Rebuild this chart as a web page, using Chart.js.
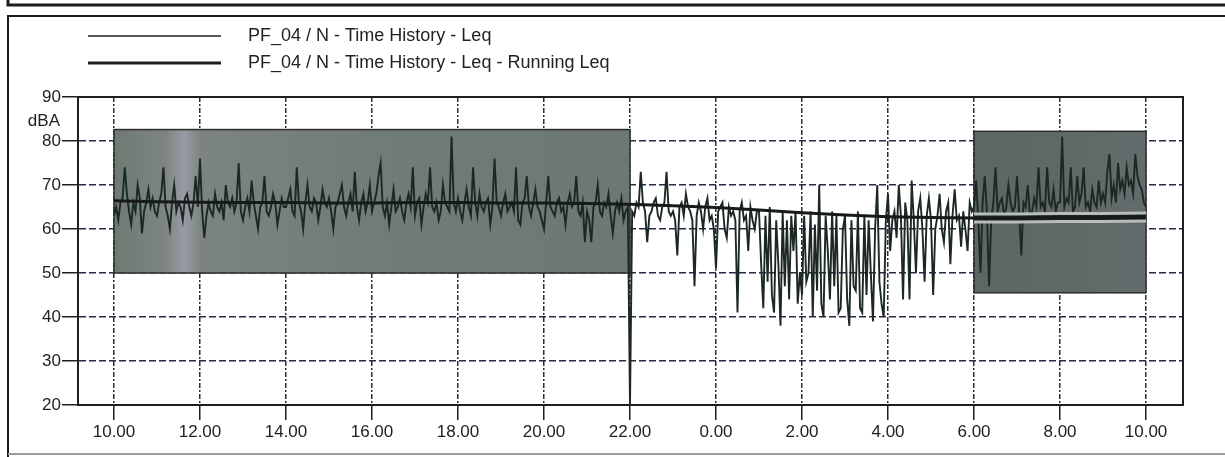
<!DOCTYPE html>
<html><head><meta charset="utf-8">
<script src="https://cdn.jsdelivr.net/npm/chart.js@4/dist/chart.umd.min.js"></script>
<style>html,body{margin:0;padding:0;background:#fff;overflow:hidden}#wrap{width:1225px;height:457px;position:relative}</style>
</head><body><div id="wrap"><canvas id="c" width="1225" height="457"></canvas></div>
<script>
// ---- data ----
const seriesLabels = ["PF_04 / N - Time History - Leq", "PF_04 / N - Time History - Leq - Running Leq"];
const xTickHours = [10, 12, 14, 16, 18, 20, 22, 24, 26, 28, 30, 32, 34];
const xTickLabels = ["10.00", "12.00", "14.00", "16.00", "18.00", "20.00", "22.00", "0.00", "2.00", "4.00", "6.00", "8.00", "10.00"];
const yTicks = [20, 30, 40, 50, 60, 70, 80, 90];
const yUnit = "dBA";
const leqStartHour = 10;
const leqStepMinutes = 3;
const leqValues = [
  63,65,62,66,67,74,68,64,61,66,64,70,67,59,64,66,69,65,67,64,   // 10
  63,66,68,74,65,63,60,66,70,64,66,65,62,67,68,65,63,66,72,65,   // 11
  76,64,58,63,66,64,63,68,65,64,66,62,70,66,65,67,64,66,75,64,   // 12
  62,65,67,64,71,66,63,60,65,66,72,64,63,65,68,66,61,64,67,65,   // 13
  65,67,69,64,63,74,66,64,60,66,70,65,64,67,66,62,65,69,66,65,   // 14
  67,64,60,65,66,68,70,65,63,66,68,64,73,65,62,66,68,64,66,70,   // 15
  64,66,68,72,75,65,63,66,61,65,69,64,65,67,64,62,66,68,65,74,   // 16
  63,66,67,61,65,68,66,74,65,64,66,62,64,70,66,65,64,81,66,64,   // 17
  67,64,62,66,69,65,63,74,66,63,68,65,64,66,67,61,65,76,66,65,   // 18
  63,66,68,64,65,66,64,74,62,61,66,67,72,65,63,66,69,65,64,62,   // 19
  60,66,72,65,64,63,66,67,64,65,61,66,68,65,66,72,64,63,66,57,   // 20
  64,62,57,65,66,70,64,63,66,65,68,63,59,64,66,64,67,62,64,65,   // 21
  20,64,63,66,65,73,66,64,57,63,64,66,67,63,62,65,66,73,64,63,   // 22
  64,62,54,65,66,63,68,65,64,62,47,63,66,64,60,65,67,62,63,60,   // 23
  51,64,65,66,60,58,65,63,64,62,41,64,66,62,63,55,65,62,60,64,   // 0
  64,52,42,63,48,65,45,41,62,52,38,64,47,62,44,63,55,64,43,50,   // 1
  45,63,48,50,64,40,61,46,70,43,40,63,55,44,64,47,63,41,42,60,   // 2
  63,44,38,62,47,46,64,42,41,63,45,62,50,39,60,70,48,43,40,62,   // 3
  68,55,62,64,58,70,63,44,66,62,44,71,62,50,64,67,60,48,63,67,   // 4
  62,45,60,63,68,60,57,64,66,52,63,69,62,63,56,64,60,55,66,64,   // 5
  65,71,62,50,66,72,64,47,62,66,74,64,66,67,63,65,70,66,64,65,   // 6
  72,64,54,66,65,70,63,64,67,65,74,65,66,64,74,66,65,69,64,66,   // 7
  66,81,65,67,66,74,64,65,72,66,68,74,65,66,64,69,66,65,71,66,   // 8
  68,66,73,77,67,70,66,75,69,71,68,74,70,71,68,77,72,70,69,66,   // 9
  65
];
const runningLeqHours = [10,11,12,13,14,15,16,17,18,19,20,21,22,23,24,25,26,27,28,29,30,31,32,33,34];
const runningLeqValues = [66.4,66.2,66.1,66.0,66.0,65.9,65.9,66.0,66.0,65.9,65.9,65.8,65.6,65.3,64.9,64.3,63.7,63.2,62.8,62.6,62.5,62.5,62.6,62.6,62.7];
const shadedPeriods = [
  {fromHour: 10, toHour: 22, low: 50, high: 82.6},
  {fromHour: 30, toHour: 34, low: 45.5, high: 82.2}
];
const haloFromHour = 30;

// ---- build ----
const leqPoints = leqValues.map((v, i) => ({x: leqStartHour + i * leqStepMinutes / 60, y: v}));
const runPoints = runningLeqHours.map((h, i) => ({x: h, y: runningLeqValues[i]}));
const haloPoints = runPoints.filter(p => p.x >= haloFromHour);

const FONT = "'Liberation Sans', Arial, sans-serif";
const INK = '#1d1f24';
const GRID = '#2b2946';

const decor = {
  id: 'decor',
  beforeDraw(chart) {
    const ctx = chart.ctx;
    ctx.save();
    ctx.fillStyle = '#fff';
    ctx.fillRect(0, 0, chart.width, chart.height);
    ctx.strokeStyle = '#1a1c1e';
    ctx.lineWidth = 3;
    ctx.beginPath(); ctx.moveTo(8, 0); ctx.lineTo(8, 5); ctx.lineTo(1225, 5); ctx.stroke();
    ctx.lineWidth = 2;
    ctx.beginPath(); ctx.moveTo(8, 457); ctx.lineTo(8, 16); ctx.lineTo(1225, 16); ctx.stroke();
    ctx.strokeStyle = '#9aa09c';
    ctx.lineWidth = 2;
    ctx.beginPath(); ctx.moveTo(8, 454); ctx.lineTo(1225, 454); ctx.stroke();
    ctx.restore();
  },
  beforeDatasetsDraw(chart) {
    const {ctx, scales: {x, y}} = chart;
    ctx.save();
    shadedPeriods.forEach((p, k) => {
      const x1 = x.getPixelForValue(p.fromHour), x2 = x.getPixelForValue(p.toHour);
      const y1 = y.getPixelForValue(p.high), y2 = y.getPixelForValue(p.low);
      const g = ctx.createLinearGradient(x1, 0, x2, 0);
      if (k === 0) {
        g.addColorStop(0, '#6f7a73');
        g.addColorStop(0.1, '#7d8580');
        g.addColorStop(0.135, '#9a9aa6');
        g.addColorStop(0.17, '#7b847e');
        g.addColorStop(0.5, '#727c76');
        g.addColorStop(1, '#6e7873');
      } else {
        g.addColorStop(0, '#5d6663');
        g.addColorStop(1, '#646b6c');
      }
      ctx.fillStyle = g;
      ctx.fillRect(x1, y1, x2 - x1, y2 - y1);
      ctx.strokeStyle = '#2a2d2c';
      ctx.lineWidth = 1.5;
      ctx.strokeRect(x1, y1, x2 - x1, y2 - y1);
    });
    ctx.restore();
  },
  afterDatasetsDraw(chart) {
    const {ctx, chartArea: a, scales: {y}} = chart;
    ctx.save();
    ctx.strokeStyle = INK;
    ctx.lineWidth = 2;
    ctx.strokeRect(a.left, a.top, a.right - a.left, a.bottom - a.top);
    ctx.fillStyle = '#222';
    ctx.font = '17px ' + FONT;
    ctx.textAlign = 'right';
    ctx.textBaseline = 'middle';
    ctx.fillText(yUnit, 60, (y.getPixelForValue(90) + y.getPixelForValue(80)) / 2 + 2);
    const rows = [{y: 36, w: 1.5}, {y: 63, w: 3}];
    ctx.textAlign = 'left';
    ctx.font = '18px ' + FONT;
    rows.forEach((r, i) => {
      ctx.strokeStyle = INK;
      ctx.lineWidth = r.w;
      ctx.beginPath(); ctx.moveTo(88, r.y); ctx.lineTo(221, r.y); ctx.stroke();
      ctx.fillText(seriesLabels[i], 248, r.y);
    });
    ctx.restore();
  }
};

new Chart(document.getElementById('c'), {
  type: 'line',
  data: {
    datasets: [
      {label: seriesLabels[1], data: runPoints, borderColor: '#161a1a', borderWidth: 3, pointRadius: 0, order: 0},
      {label: 'halo core', data: haloPoints, borderColor: '#1b2221', borderWidth: 5, pointRadius: 0, order: 1},
      {label: 'halo', data: haloPoints, borderColor: '#b7bdb9', borderWidth: 11, pointRadius: 0, order: 2},
      {label: seriesLabels[0], data: leqPoints, borderColor: '#1c2824', borderWidth: 1.9, pointRadius: 0, order: 3}
    ]
  },
  options: {
    responsive: false,
    animation: false,
    devicePixelRatio: 1,
    layout: {padding: {left: 0, top: 97, right: 42, bottom: 0}},
    plugins: {legend: {display: false}, tooltip: {enabled: false}},
    elements: {line: {tension: 0, borderJoinStyle: 'miter'}},
    scales: {
      x: {
        type: 'linear', min: 9.163, max: 34.86,
        afterBuildTicks(s) { s.ticks = xTickHours.map(v => ({value: v})); },
        afterFit(s) { s.height = 52; },
        ticks: {autoSkip: false, maxRotation: 0, padding: 2, color: '#222', font: {family: FONT, size: 17},
          callback: (v, i) => xTickLabels[i]},
        grid: {color: GRID, lineWidth: 1.5, tickLength: 15, tickColor: INK, tickWidth: 1.5},
        border: {display: true, color: INK, width: 2, dash: [5, 2, 2, 2]}
      },
      y: {
        min: 20, max: 90,
        afterBuildTicks(s) { s.ticks = yTicks.map(v => ({value: v})); },
        afterFit(s) { s.width = 78; },
        ticks: {autoSkip: false, padding: 1, color: '#222', font: {family: FONT, size: 17}},
        grid: {color: GRID, lineWidth: 1.5, tickLength: 16, tickColor: INK, tickWidth: 1.5},
        border: {display: true, color: INK, width: 2, dash: [7, 3]}
      }
    }
  },
  plugins: [decor]
});
</script></body></html>
